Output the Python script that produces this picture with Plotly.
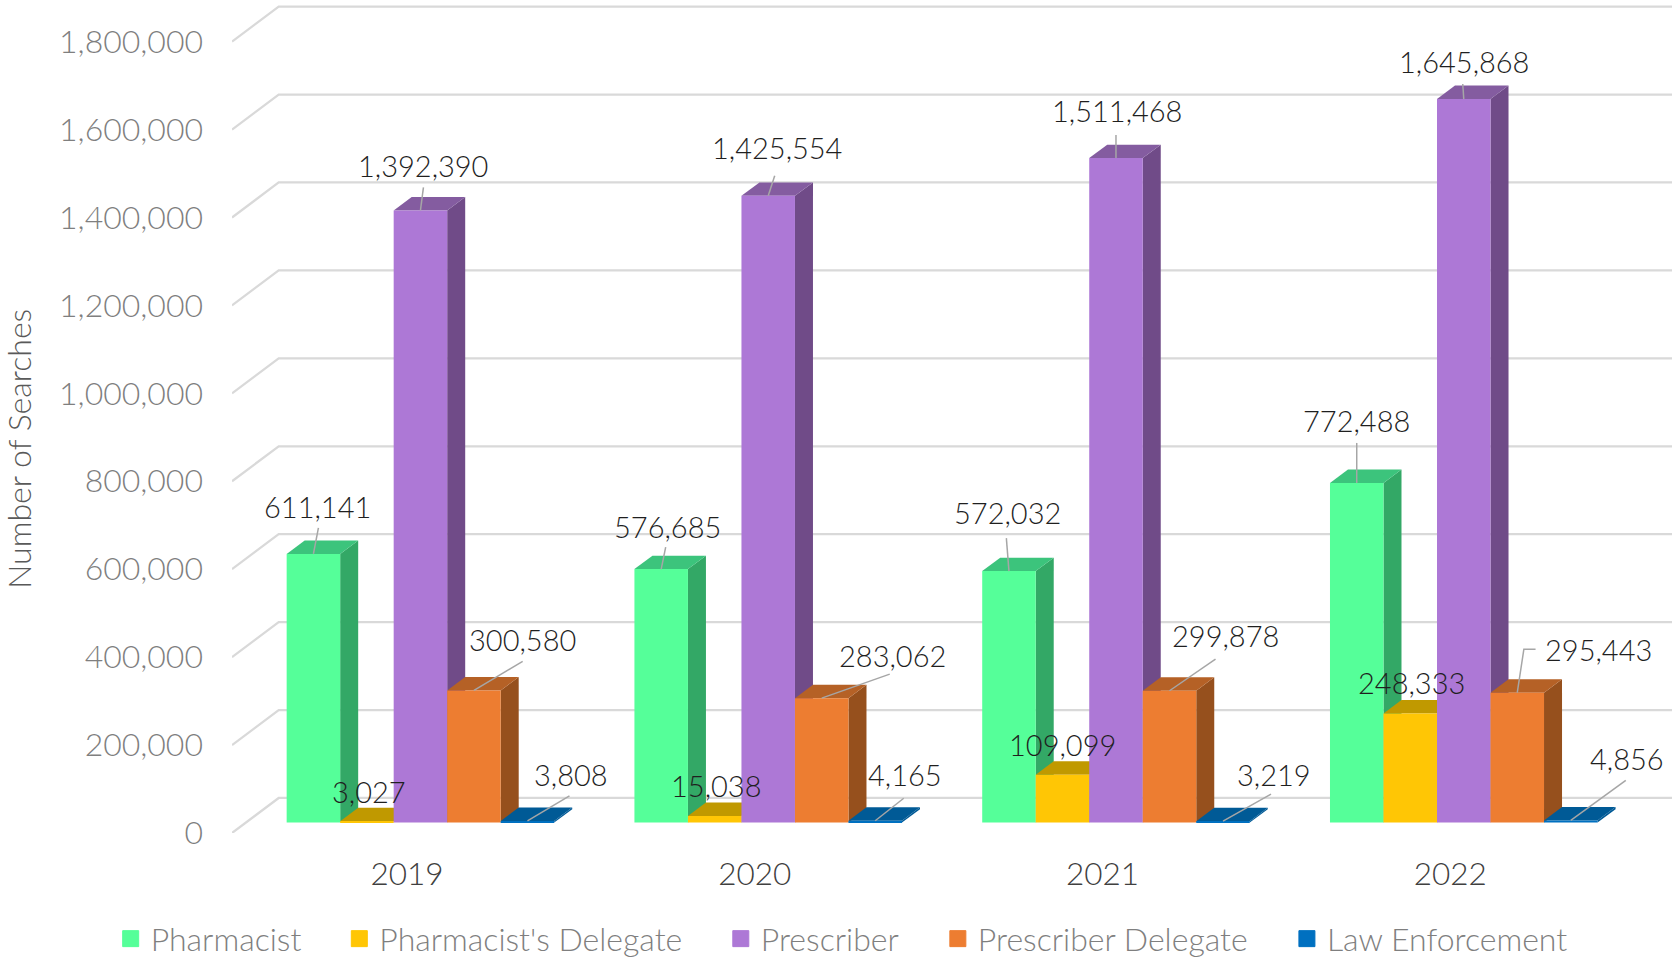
import plotly.graph_objects as go

# ---------- data ----------
years = ["2019", "2020", "2021", "2022"]
series_names = ["Pharmacist", "Pharmacist's Delegate", "Prescriber", "Prescriber Delegate", "Law Enforcement"]
pharmacist = [611141, 576685, 572032, 772488]
pharmacist_delegate = [3027, 15038, 109099, 248333]
prescriber = [1392390, 1425554, 1511468, 1645868]
prescriber_delegate = [300580, 283062, 299878, 295443]
law_enforcement = [3808, 4165, 3219, 4856]
series_values = [pharmacist, pharmacist_delegate, prescriber, prescriber_delegate, law_enforcement]
y_ticks = [0, 200000, 400000, 600000, 800000, 1000000, 1200000, 1400000, 1600000, 1800000]

# ---------- styles ----------
front_colors = ["#55FF99", "#FFC605", "#AD78D6", "#ED7D31", "#0070C0"]
side_colors = ["#33A866", "#C09900", "#704B88", "#96501D", "#005A96"]
top_colors = ["#3CC47C", "#C09900", "#845CA0", "#B56126", "#005A96"]
legend_text_px = [149, 377.6, 759, 976, 1325]
FONT = "Lato"
W, H = 1672, 959
LEFT, BASE_PX = 232.3, 832.7     # front-left corner of the floor, px
PX_PER_VALUE = 87.9 / 200000
GROUP_PX = 347.7
TICK0_PX = 407.3
BAR_PX = 53.5
BAR_SHIFT_PX = 13.4
WALL_DX, WALL_DY = 46.7, 35.0    # wall depth, px
BAR_BASE_DY = 10.4               # bars stand this far back of the front edge
BAR_DX, BAR_DY = 18.0, 13.4      # bar depth, px


def xu(px):
    return px / GROUP_PX


def yu(px):
    return px / PX_PER_VALUE


x_range = [xu(LEFT - TICK0_PX), xu(W - TICK0_PX)]
y_range = [0, yu(BASE_PX)]
plot_w, plot_h = W - LEFT, BASE_PX

fig = go.Figure()

# back-wall gridlines
gx, gy = [], []
for t in y_ticks:
    gx += [x_range[0], x_range[0] + xu(WALL_DX), x_range[1], None]
    gy += [t, t + yu(WALL_DY), t + yu(WALL_DY), None]
fig.add_trace(go.Scatter(x=gx, y=gy, mode="lines", line=dict(color="#D9D9D9", width=2.25),
                         showlegend=False, hoverinfo="skip"))

base_value = yu(BAR_BASE_DY)
n_series = len(series_names)
x_shift = xu(BAR_SHIFT_PX)
bar_w = xu(BAR_PX)


def bar_center(i, j):
    return i + x_shift + (j - (n_series - 1) / 2) * bar_w


# depth faces of the bars, left to right
for i in range(len(years)):
    for j in range(n_series):
        v = series_values[j][i]
        c = bar_center(i, j)
        L, R = c - bar_w / 2, c + bar_w / 2
        top = base_value + v
        ddx, ddy = xu(BAR_DX), yu(BAR_DY)
        fig.add_trace(go.Scatter(x=[R, R + ddx, R + ddx, R, R], y=[base_value, base_value + ddy, top + ddy, top, base_value],
                                 mode="lines", line=dict(width=0), fill="toself", fillcolor=side_colors[j],
                                 showlegend=False, hoverinfo="skip"))
        fig.add_trace(go.Scatter(x=[L, L + ddx, R + ddx, R, L], y=[top, top + ddy, top + ddy, top, top],
                                 mode="lines", line=dict(width=0), fill="toself", fillcolor=top_colors[j],
                                 showlegend=False, hoverinfo="skip"))

# front faces: real grouped bars on an overlaid axis, above the depth faces
for j in range(n_series):
    fig.add_trace(go.Bar(x=[i + x_shift for i in range(len(years))], y=series_values[j],
                         base=[base_value] * len(years), name=series_names[j],
                         marker=dict(color=front_colors[j], line=dict(width=0)),
                         yaxis="y2", showlegend=False))

# legend entries: one legend per series so each sits at its own place
legend_font = dict(family=FONT, size=32, color="#7F7F7F", weight=300)
legend_layout = {}
for j in range(n_series):
    key = "legend" if j == 0 else f"legend{j + 1}"
    fig.add_trace(go.Scatter(x=[None], y=[None], mode="markers", name=series_names[j], legend=key,
                             marker=dict(symbol="square", size=16, color=front_colors[j],
                                         line=dict(width=1, color=front_colors[j])), yaxis="y2"))
    legend_layout[key] = dict(orientation="h", x=(legend_text_px[j] - 38 - LEFT) / plot_w,
                              y=(BASE_PX - 938.5) / plot_h, xanchor="left", yanchor="middle",
                              font=legend_font, bgcolor="rgba(0,0,0,0)")

# label positions: px offsets from the bar's front top centre
label_offsets = [
    [(4, -47), (6, -43), (-1.6, -59), (0, -62)],
    [(2, -30), (1, -30), (0, -30), (1, -31)],
    [(3, -45), (8.5, -48), (1, -48), (0, -37)],
    [(49, -51), (70.5, -43), (56, -55), (81, -43)],
    [(44, -46), (29.5, -46.5), (51, -47), (56, -62)],
]
leader_offsets = [
    [[(5, -26)], [(4.5, -22)], [(-2.6, -33)], [(0, -40)]],
    [[], [], [], []],
    [[(3, -23)], [(6.5, -20)], [(0, -23)], [(-1, -15)]],
    [[(48.7, -29)], [(68, -24)], [(46, -31.5)], [(6.6, -43.5), (18.3, -43.5)]],
    [[(42, -25)], [(28.5, -22.5)], [(48, -27)], [(55, -40)]],
]

annotations = []
lx, ly = [], []
for j in range(n_series):
    for i in range(len(years)):
        v = series_values[j][i]
        c = bar_center(i, j)
        top = base_value + v
        dx, dy = label_offsets[j][i]
        annotations.append(dict(x=c, y=top, xref="x", yref="y", text=f"{v:,}", showarrow=False,
                                xshift=dx, yshift=-dy, xanchor="center", yanchor="middle",
                                font=dict(family=FONT, size=29, color="#1F1F1F", weight=300)))
        pts = leader_offsets[j][i]
        if pts:
            lx.append(c)
            ly.append(top)
            for px, py in pts:
                lx.append(c + xu(px))
                ly.append(top - yu(py))
            lx.append(None)
            ly.append(None)
fig.add_trace(go.Scatter(x=lx, y=ly, mode="lines", line=dict(color="#A6A6A6", width=1.5),
                         yaxis="y3", showlegend=False, hoverinfo="skip"))

annotations.append(dict(x=(19 - LEFT) / plot_w, y=(BASE_PX - 449) / plot_h, xref="paper", yref="paper",
                        text="Number of Searches", showarrow=False, textangle=-90,
                        xanchor="center", yanchor="middle",
                        font=dict(family=FONT, size=32, color="#595959", weight=300)))

fig.update_layout(
    width=W, height=H, autosize=False,
    margin=dict(l=LEFT, r=0, t=0, b=H - BASE_PX, pad=0, autoexpand=False),
    paper_bgcolor="white", plot_bgcolor="white",
    barmode="group", bargap=1 - n_series * bar_w, bargroupgap=0,
    font=dict(family=FONT),
    xaxis=dict(range=x_range, tickmode="array", tickvals=list(range(len(years))), ticktext=years,
               showgrid=False, zeroline=False, showline=False, ticks="", ticklabelstandoff=19,
               tickfont=dict(family=FONT, size=31.5, color="#404040", weight=300), fixedrange=True),
    yaxis=dict(range=y_range, tickmode="array", tickvals=y_ticks, ticktext=[f"{t:,}" for t in y_ticks],
               showgrid=False, zeroline=False, showline=False, ticks="", ticklabelstandoff=28,
               tickfont=dict(family=FONT, size=32, color="#7F7F7F", weight=300), fixedrange=True),
    yaxis2=dict(range=y_range, overlaying="y", visible=False, fixedrange=True),
    yaxis3=dict(range=y_range, overlaying="y", visible=False, fixedrange=True),
    annotations=annotations,
    **legend_layout,
)

fig.write_html("out.html", config={"displayModeBar": False},
               post_script="document.body.style.margin='0';document.body.style.overflow='hidden';")
